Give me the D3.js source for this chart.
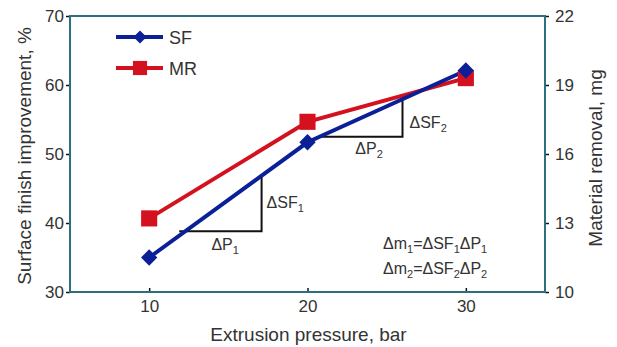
<!DOCTYPE html>
<html>
<head>
<meta charset="utf-8">
<script src="https://d3js.org/d3.v7.min.js"></script>
<style>
  body { margin: 0; background: #fff; }
  text { font-family: Arial, "Liberation Sans", sans-serif; fill: #333; }
</style>
</head>
<body>
<div id="chart"></div>
<script>
// chart values
var pressure = [10, 20, 30];
var sfValues = [35, 51.7, 62.1];      // surface finish improvement, %
var mrValues = [13.2, 17.4, 19.3];    // material removal, mg
var xTicks = [10, 20, 30];
var leftTicks = [30, 40, 50, 60, 70];
var rightTicks = [10, 13, 16, 19, 22];
// slope triangles: [p start, p end, sf low, sf high]
var tri1 = [11.9, 17.1, 38.8, 46.9];
var tri2 = [20.8, 26.0, 52.5, 58.3];

var svgWidth = 617, svgHeight = 347;
var margin = { top: 16, right: 72, bottom: 55, left: 70 };
var chartWidth = svgWidth - margin.left - margin.right;
var chartHeight = svgHeight - margin.top - margin.bottom;

var svg = d3.select("#chart").append("svg")
  .attr("width", svgWidth)
  .attr("height", svgHeight);

var chartGroup = svg.append("g")
  .attr("transform", `translate(${margin.left}, ${margin.top})`);

var xScale = d3.scaleLinear().domain([5, 35]).range([0, chartWidth]);
var yLeft = d3.scaleLinear().domain([30, 70]).range([chartHeight, 0]);
var yRight = d3.scaleLinear().domain([10, 22]).range([chartHeight, 0]);

var frameColor = "#2c6f80";

// axes
var xAxis = d3.axisBottom(xScale).tickValues(xTicks).tickSize(-4).tickPadding(8);
var leftAxis = d3.axisLeft(yLeft).tickValues(leftTicks).tickSize(4).tickPadding(2);
var rightAxis = d3.axisRight(yRight).tickValues(rightTicks).tickSize(4).tickPadding(6);

function styleAxis(g) {
  g.select(".domain").remove();
  g.selectAll(".tick line").attr("stroke", "#111").attr("stroke-width", 1.5);
  g.selectAll(".tick text").style("font-size", "17px").attr("fill", "#333");
}

chartGroup.append("g")
  .attr("transform", `translate(0, ${chartHeight})`)
  .call(xAxis).call(styleAxis);
chartGroup.append("g").call(leftAxis).call(styleAxis);
chartGroup.append("g")
  .attr("transform", `translate(${chartWidth}, 0)`)
  .call(rightAxis).call(styleAxis);

// frame
chartGroup.append("rect")
  .attr("width", chartWidth)
  .attr("height", chartHeight)
  .attr("fill", "none")
  .attr("stroke", frameColor)
  .attr("stroke-width", 2);

// axis titles
svg.append("text")
  .attr("transform", `translate(31, ${margin.top + chartHeight / 2 + 2}) rotate(-90)`)
  .attr("text-anchor", "middle")
  .style("font-size", "19px")
  .text("Surface finish improvement, %");

svg.append("text")
  .attr("transform", `translate(602, ${margin.top + chartHeight / 2 + 4}) rotate(-90)`)
  .attr("text-anchor", "middle")
  .style("font-size", "19px")
  .text("Material removal, mg");

svg.append("text")
  .attr("x", margin.left + xScale(20) + 1)
  .attr("y", 341)
  .attr("text-anchor", "middle")
  .style("font-size", "19px")
  .text("Extrusion pressure, bar");

// slope triangles
function triangle(t) {
  var path = d3.path();
  path.moveTo(xScale(t[0]), yLeft(t[2]));
  path.lineTo(xScale(t[1]), yLeft(t[2]));
  path.lineTo(xScale(t[1]), yLeft(t[3]));
  return path.toString();
}
[tri1, tri2].forEach(function(t) {
  chartGroup.append("path")
    .attr("d", triangle(t))
    .attr("fill", "none")
    .attr("stroke", "#111")
    .attr("stroke-width", 2);
});

var blue = "#0b1f96";
var red = "#d4111f";

var sfData = pressure.map((p, i) => ({ p: p, v: sfValues[i] }));
var mrData = pressure.map((p, i) => ({ p: p, v: mrValues[i] }));

var sfLine = d3.line().x(d => xScale(d.p)).y(d => yLeft(d.v));
var mrLine = d3.line().x(d => xScale(d.p)).y(d => yRight(d.v));

chartGroup.append("path")
  .datum(mrData)
  .attr("d", mrLine)
  .attr("fill", "none")
  .attr("stroke", red)
  .attr("stroke-width", 4);

chartGroup.append("path")
  .datum(sfData)
  .attr("d", sfLine)
  .attr("fill", "none")
  .attr("stroke", blue)
  .attr("stroke-width", 4);

var diamond = d3.symbol().type(d3.symbolDiamond2).size(170);
var square = d3.symbol().type(d3.symbolSquare).size(260);

chartGroup.selectAll(".mr-marker")
  .data(mrData)
  .enter()
  .append("path")
  .attr("class", "mr-marker")
  .attr("transform", d => `translate(${xScale(d.p)}, ${yRight(d.v)})`)
  .attr("d", square)
  .attr("fill", red);

chartGroup.selectAll(".sf-marker")
  .data(sfData)
  .enter()
  .append("path")
  .attr("class", "sf-marker")
  .attr("transform", d => `translate(${xScale(d.p)}, ${yLeft(d.v)})`)
  .attr("d", diamond)
  .attr("fill", blue);

// legend
var legend = svg.append("g");
[{ name: "SF", color: blue, sym: d3.symbol().type(d3.symbolDiamond2).size(110), y: 37 },
 { name: "MR", color: red, sym: d3.symbol().type(d3.symbolSquare).size(200), y: 68 }]
  .forEach(function(s) {
    legend.append("line")
      .attr("x1", 116).attr("x2", 163)
      .attr("y1", s.y).attr("y2", s.y)
      .attr("stroke", s.color).attr("stroke-width", 4);
    legend.append("path")
      .attr("transform", `translate(140, ${s.y})`)
      .attr("d", s.sym)
      .attr("fill", s.color);
    legend.append("text")
      .attr("x", 169).attr("y", s.y + 7)
      .style("font-size", "18px")
      .text(s.name);
  });

// labels with subscripts
function subLabel(x, y, parts) {
  var t = svg.append("text").attr("x", x).attr("y", y).style("font-size", "16px");
  var shift = 0;
  parts.forEach(function(p) {
    var span = t.append("tspan").text(p.s);
    if (p.sub) {
      span.attr("dy", 4 - shift).style("font-size", "11px");
      shift = 4;
    } else {
      span.attr("dy", -shift);
      shift = 0;
    }
  });
}

subLabel(margin.left + xScale(tri1[1]) + 5, 208, [{ s: "\u0394SF" }, { s: "1", sub: true }]);
subLabel(margin.left + (xScale(tri1[0]) + xScale(tri1[1])) / 2 - 9, 250, [{ s: "\u0394P" }, { s: "1", sub: true }]);
subLabel(margin.left + xScale(tri2[1]) + 7, 128, [{ s: "\u0394SF" }, { s: "2", sub: true }]);
subLabel(margin.left + (xScale(tri2[0]) + xScale(tri2[1])) / 2 - 6, 154, [{ s: "\u0394P" }, { s: "2", sub: true }]);

subLabel(383, 249, [{ s: "\u0394m" }, { s: "1", sub: true }, { s: "=\u0394SF" }, { s: "1", sub: true }, { s: "\u0394P" }, { s: "1", sub: true }]);
subLabel(383, 274, [{ s: "\u0394m" }, { s: "2", sub: true }, { s: "=\u0394SF" }, { s: "2", sub: true }, { s: "\u0394P" }, { s: "2", sub: true }]);
</script>
</body>
</html>
